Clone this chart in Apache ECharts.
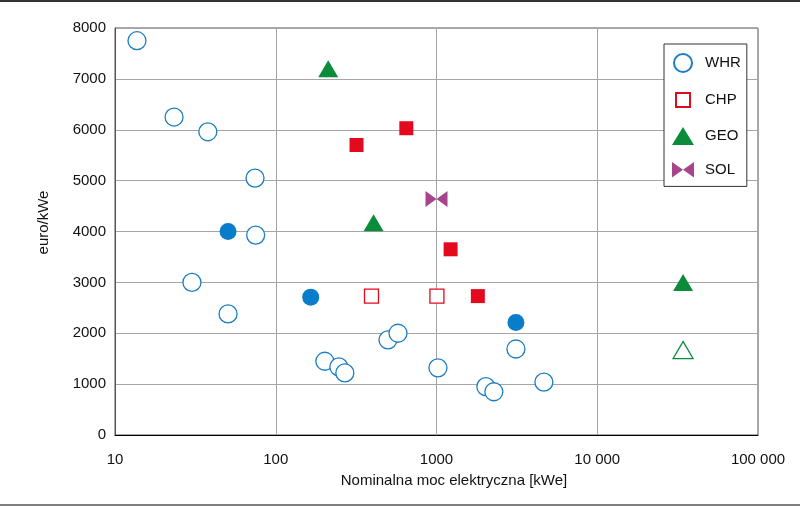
<!DOCTYPE html>
<html>
<head>
<meta charset="utf-8">
<script src="https://cdn.jsdelivr.net/npm/echarts@6/dist/echarts.min.js"></script>
<style>
    html, body { margin: 0; padding: 0; background: #fff; }
    #chart { width: 800px; height: 506px; }
</style>
</head>
<body>
<div id="chart"></div>
<script>
// dane: [moc kWe, euro/kWe]
const whrOpen = [
    [13.7, 7750], [23.3, 6250], [37.8, 5960], [74.3, 5050], [75, 3930],
    [30.1, 3000], [50.5, 2380], [202, 1450], [247, 1340], [269, 1220],
    [499, 1870], [576, 2000], [1021, 1320], [2028, 950], [2274, 850],
    [3119, 1690], [4656, 1040]
];
const whrFilled = [[50.5, 4000], [165, 2710], [3119, 2210]];
const chpOpen = [[394, 2730], [1006, 2730]];
const chpFilled = [[318, 5700], [649, 6030], [1224, 3650], [1808, 2730]];
const geoFilled = [[212, 7200], [406, 4170], [34200, 3000]];
const geoOpen = [[34200, 1670]];
const solData = [[1000, 4640]];

const legendNames = ['WHR', 'CHP', 'GEO', 'SOL'];
const xTicks = [10, 100, 1000, 10000, 100000];

const FONT = '"Liberation Sans", Arial, sans-serif';
const FS = 15;
const BLUE = '#1b7dc2';
const RED = '#e30a1e';
const GREEN = '#0b8c3b';
const PURPLE = '#a6448c';
const BOWTIE = 'path://M0,0L10,7L0,14ZM20,0L10,7L20,14Z';
// kwadrat w legendzie trochę mniejszy niż ikona (puste M poszerzają ramkę)
const LEGEND_SQUARE = 'path://M0,0M18,18M2,2H16V16H2Z';

function fmtX(v) {
    // 10 000 i 100 000 ze spacją, 1000 bez
    if (v >= 10000) return String(v).replace(/\B(?=(\d{3})+(?!\d))/g, ' ');
    return String(v);
}

let chart = echarts.init(document.getElementById('chart'), null, {renderer: 'canvas'});

let option = {
    animation: false,
    backgroundColor: '#fff',
    textStyle: {fontFamily: FONT},
    grid: {
        left: 115, right: 42, top: 28, bottom: 71,
        show: true,
        borderColor: '#555',
        borderWidth: 1
    },
    legend: {
        orient: 'vertical',
        left: 664,
        top: 44,
        padding: [9, 6, 9, 8],
        itemWidth: 22,
        itemHeight: 18,
        itemGap: 17,
        borderColor: '#333',
        borderWidth: 1,
        backgroundColor: '#fff',
        textStyle: {fontFamily: FONT, fontSize: FS, color: '#111', padding: [0, 0, 0, 6]},
        data: [
            {name: legendNames[0], icon: 'circle'},
            {name: legendNames[1], icon: LEGEND_SQUARE},
            {name: legendNames[2], icon: 'triangle'},
            {name: legendNames[3], icon: BOWTIE}
        ]
    },
    xAxis: {
        type: 'log',
        logBase: 10,
        min: xTicks[0],
        max: xTicks[xTicks.length - 1],
        name: 'Nominalna moc elektryczna [kWe]',
        nameLocation: 'middle',
        nameGap: 38,
        nameTextStyle: {fontFamily: FONT, fontSize: FS, color: '#111', padding: [0, 0, 0, 35]},
        axisLine: {lineStyle: {color: '#000', width: 1}},
        axisTick: {show: false},
        minorTick: {show: false},
        axisLabel: {fontFamily: FONT, fontSize: FS, color: '#111', margin: 17, formatter: fmtX},
        splitLine: {lineStyle: {color: '#a5a5a5', width: 1}}
    },
    yAxis: {
        type: 'value',
        min: 0,
        max: 8000,
        interval: 1000,
        name: 'euro/kWe',
        nameLocation: 'middle',
        nameGap: 64,
        nameTextStyle: {fontFamily: FONT, fontSize: FS, color: '#111', padding: [0, 0, 0, 18]},
        axisLine: {show: true, lineStyle: {color: '#555', width: 1}},
        axisTick: {show: false},
        axisLabel: {fontFamily: FONT, fontSize: FS, color: '#111', margin: 9, formatter: function (v) { return String(v); }},
        splitLine: {lineStyle: {color: '#a5a5a5', width: 1}}
    },
    series: [
        {
            name: 'WHR', type: 'scatter', data: whrOpen, symbol: 'circle', symbolSize: 18,
            itemStyle: {color: '#fff', borderColor: BLUE, borderWidth: 1.3, opacity: 1}
        },
        {
            name: 'WHR*', type: 'scatter', data: whrFilled, symbol: 'circle', symbolSize: 17,
            itemStyle: {color: '#0a7dca', opacity: 1}
        },
        {
            name: 'CHP', type: 'scatter', data: chpOpen, symbol: 'rect', symbolSize: 14,
            itemStyle: {color: '#fff', borderColor: RED, borderWidth: 1.3, opacity: 1}
        },
        {
            name: 'CHP*', type: 'scatter', data: chpFilled, symbol: 'rect', symbolSize: 14,
            itemStyle: {color: RED, opacity: 1}
        },
        {
            name: 'GEO', type: 'scatter', data: geoFilled, symbol: 'triangle', symbolSize: [20, 17],
            itemStyle: {color: GREEN, opacity: 1}
        },
        {
            name: 'GEO*', type: 'scatter', data: geoOpen, symbol: 'triangle', symbolSize: [20, 17],
            itemStyle: {color: '#fff', borderColor: GREEN, borderWidth: 1.3, opacity: 1}
        },
        {
            name: 'SOL', type: 'scatter', data: solData, symbol: BOWTIE, symbolSize: [22, 16],
            symbolKeepAspect: false,
            itemStyle: {color: PURPLE, opacity: 1}
        }
    ],
    graphic: [
        // ramka obrazka góra / dół
        {type: 'line', shape: {x1: 0, y1: 1, x2: 800, y2: 1}, style: {stroke: '#333', lineWidth: 2}, silent: true},
        {type: 'line', shape: {x1: 0, y1: 505, x2: 800, y2: 505}, style: {stroke: '#555', lineWidth: 1.5}, silent: true}
    ]
};

chart.setOption(option);

window.onresize = function () {
    chart.resize();
};
</script>
</body>
</html>
